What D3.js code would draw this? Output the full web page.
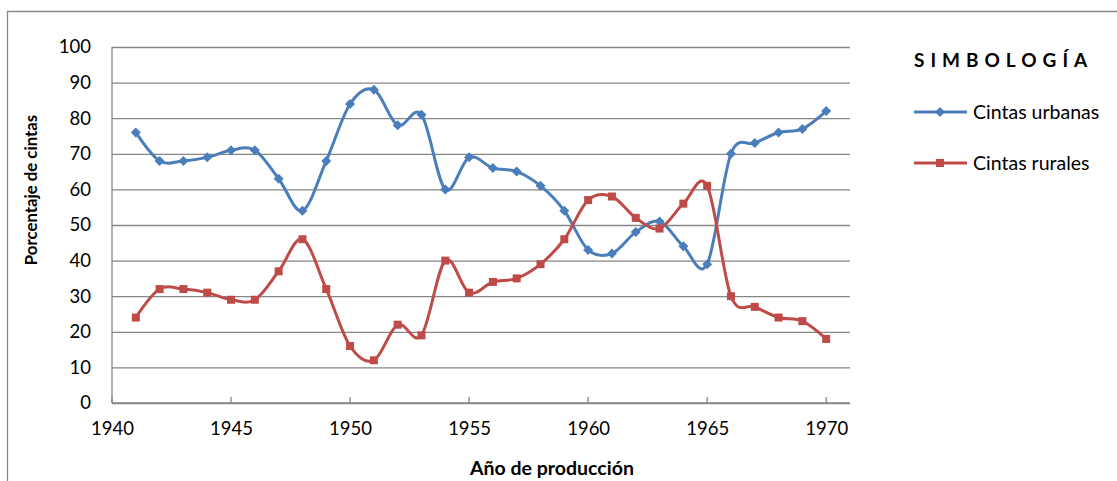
<html>
  <head>
    <script src="https://d3js.org/d3.v7.min.js"></script>
    <style>
      body { margin: 0; background: white; }
      .grid line { stroke: #868686; stroke-width: 1.3; }
      .axis text { font-family: Lato, "Open Sans", sans-serif; font-size: 18.5px; fill: #000; }
    </style>
  </head>
  <body>
    <script type="text/javascript">
      // input data
      var years = [1941, 1942, 1943, 1944, 1945, 1946, 1947, 1948, 1949, 1950,
                   1951, 1952, 1953, 1954, 1955, 1956, 1957, 1958, 1959, 1960,
                   1961, 1962, 1963, 1964, 1965, 1966, 1967, 1968, 1969, 1970];
      var urbanas = [76, 68, 68, 69, 71, 71, 63, 54, 68, 84,
                     88, 78, 81, 60, 69, 66, 65, 61, 54, 43,
                     42, 48, 51, 44, 39, 70, 73, 76, 77, 82];
      var rurales = [24, 32, 32, 31, 29, 29, 37, 46, 32, 16,
                     12, 22, 19, 40, 31, 34, 35, 39, 46, 57,
                     58, 52, 49, 56, 61, 30, 27, 24, 23, 18];
      var xTicks = [1940, 1945, 1950, 1955, 1960, 1965, 1970];
      var yTicks = [0, 10, 20, 30, 40, 50, 60, 70, 80, 90, 100];
      var seriesNames = ["Cintas urbanas", "Cintas rurales"];

      var width = 1117;
      var height = 481;
      var plot = { left: 112, right: 850, top: 47, bottom: 403 };

      var svg = d3.select("body").append("svg")
        .attr("width", width)
        .attr("height", height);

      // outer chart border (only top and left visible)
      svg.append("path")
        .attr("d", "M7.5," + (height + 5) + "V11.5H" + (width + 5))
        .attr("fill", "none")
        .attr("stroke", "#868686")
        .attr("stroke-width", 1.3);

      var x = d3.scaleLinear()
        .domain([1940, 1971])
        .range([plot.left, plot.right]);

      var y = d3.scaleLinear()
        .domain([0, 100])
        .range([plot.bottom, plot.top]);

      // horizontal gridlines
      var gridY = svg.append("g")
        .attr("class", "grid")
        .attr("transform", "translate(" + plot.left + ",0)")
        .call(d3.axisRight(y).tickValues(yTicks).tickFormat("").tickSize(plot.right - plot.left));
      gridY.select(".domain").remove();

      // y axis line
      svg.append("line")
        .attr("x1", plot.left).attr("x2", plot.left)
        .attr("y1", plot.top).attr("y2", plot.bottom)
        .attr("stroke", "#868686").attr("stroke-width", 1.3);

      // x axis line with inner ticks
      svg.append("line")
        .attr("x1", plot.left).attr("x2", plot.right)
        .attr("y1", plot.bottom).attr("y2", plot.bottom)
        .attr("stroke", "#868686").attr("stroke-width", 1.3);
      svg.selectAll(".xtick")
        .data(xTicks)
        .enter().append("line")
        .attr("x1", d => x(d)).attr("x2", d => x(d))
        .attr("y1", plot.bottom - 6).attr("y2", plot.bottom)
        .attr("stroke", "#868686").attr("stroke-width", 1.3);

      // tick labels
      var yAxisGroup = svg.append("g")
        .attr("class", "axis")
        .attr("transform", "translate(" + (plot.left - 21) + ",0)")
        .call(d3.axisLeft(y).tickValues(yTicks).tickSize(0).tickPadding(0));
      yAxisGroup.select(".domain").remove();

      var xAxisGroup = svg.append("g")
        .attr("class", "axis")
        .attr("transform", "translate(0," + (plot.bottom + 19) + ")")
        .call(d3.axisBottom(x).tickValues(xTicks).tickFormat(d3.format("d")).tickSize(0).tickPadding(0));
      xAxisGroup.select(".domain").remove();

      // axis titles
      svg.append("text")
        .text("Porcentaje de cintas")
        .attr("transform", "translate(37,190) rotate(-90)")
        .attr("text-anchor", "middle")
        .attr("font-family", "Lato, sans-serif")
        .attr("font-weight", "bold")
        .attr("font-size", "16.8px");

      svg.append("text")
        .text("Año de producción")
        .attr("x", 552)
        .attr("y", 475)
        .attr("text-anchor", "middle")
        .attr("font-family", "Lato, sans-serif")
        .attr("font-weight", "bold")
        .attr("font-size", "19.5px");

      var colors = ["#4A7EBB", "#BE4B48"];
      var values = [urbanas, rurales];

      function plotSeries(vals, color) {
        var data = years.map((yr, i) => ({ year: yr, value: vals[i] }));
        var line = d3.line()
          .x(d => x(d.year))
          .y(d => y(d.value))
          .curve(d3.curveCardinal.tension(0));
        svg.append("path")
          .datum(data)
          .attr("fill", "none")
          .attr("stroke", color)
          .attr("stroke-width", 3)
          .attr("d", line);
        return data;
      }

      function drawMarker(g, kind, cx, cy, color) {
        if (kind == 0) {
          g.append("path")
            .attr("d", "M" + cx + "," + (cy - 5) + "L" + (cx + 5) + "," + cy + "L" + cx + "," + (cy + 5) + "L" + (cx - 5) + "," + cy + "Z")
            .attr("fill", color);
        } else {
          g.append("rect")
            .attr("x", cx - 4).attr("y", cy - 4)
            .attr("width", 8).attr("height", 8)
            .attr("fill", color);
        }
      }

      for (var s = 0; s < values.length; s++) {
        var pts = plotSeries(values[s], colors[s]);
        var mg = svg.append("g");
        pts.forEach(function (p) {
          drawMarker(mg, s, x(p.year), y(p.value), colors[s]);
        });
      }

      // legend
      svg.append("text")
        .text("SIMBOLOGÍA")
        .attr("x", 914)
        .attr("y", 67)
        .attr("font-family", "Lato, sans-serif")
        .attr("font-weight", "bold")
        .attr("font-size", "19px")
        .attr("letter-spacing", "6px");

      var legendY = [112, 163];
      for (var i = 0; i < seriesNames.length; i++) {
        var lg = svg.append("g");
        lg.append("line")
          .attr("x1", 914).attr("x2", 967)
          .attr("y1", legendY[i]).attr("y2", legendY[i])
          .attr("stroke", colors[i]).attr("stroke-width", 3);
        drawMarker(lg, i, 940, legendY[i], colors[i]);
        lg.append("text")
          .text(seriesNames[i])
          .attr("x", 973)
          .attr("y", legendY[i])
          .attr("dy", "0.35em")
          .attr("font-family", "Lato, sans-serif")
          .attr("font-size", "19.5px");
      }
    </script>
  </body>
</html>
